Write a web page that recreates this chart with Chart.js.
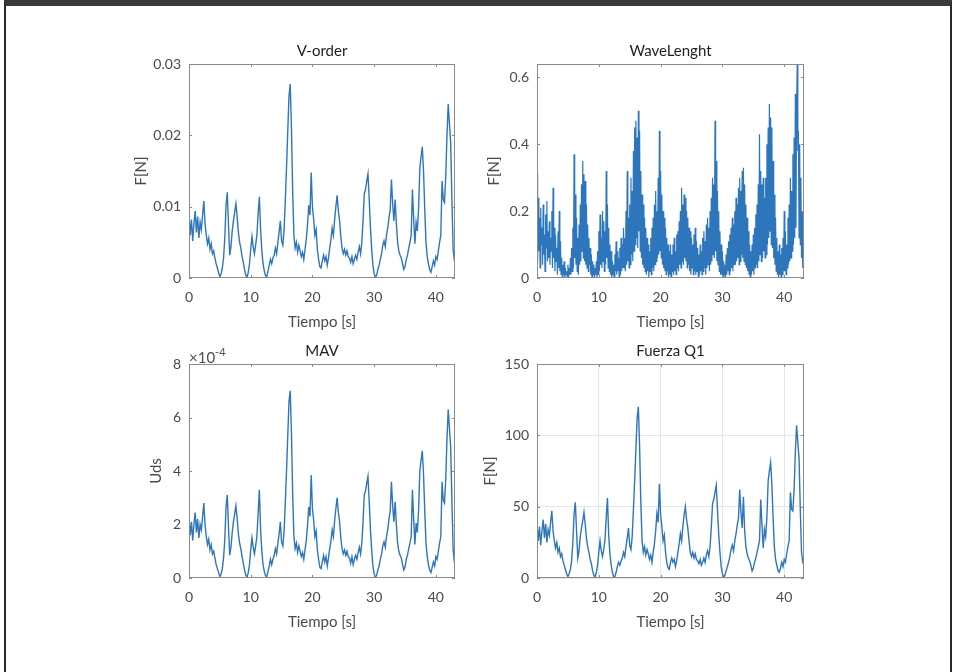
<!DOCTYPE html>
<html>
<head>
<meta charset="utf-8">
<script src="https://cdn.jsdelivr.net/npm/chart.js@4.4.0/dist/chart.umd.min.js"></script>
<style>
  html, body { margin: 0; padding: 0; background: #fff; }
  body { width: 957px; height: 672px; position: relative; overflow: hidden; }
  #frame {
    position: absolute; left: 4px; top: 0; width: 948px; height: 672px;
    box-sizing: border-box; border-top: 6px solid #3a3a3a;
    border-left: 2px solid #2a2a2a; border-right: 2px solid #2a2a2a;
  }
  .plot { position: absolute; }
  #exp { position: absolute; left: 189px; top: 346px; font: 15px Lato, sans-serif; color: #4d4d4d; }
  #exp sup { font-size: 11px; position: relative; top: -1px; }
</style>
</head>
<body>
<div id="frame"></div>
<canvas id="vorder" class="plot" width="350" height="300" style="left:110px;top:36px"></canvas>
<canvas id="wave" class="plot" width="350" height="300" style="left:458px;top:36px"></canvas>
<canvas id="mav" class="plot" width="350" height="300" style="left:110px;top:336px"></canvas>
<canvas id="fuerza" class="plot" width="350" height="300" style="left:458px;top:336px"></canvas>
<div id="exp">&times;10<sup>-4</sup></div>
<script>
// sampling steps [s]
const DT = 0.2;
const WAVE_DT = 0.1;
const X_TICKS = [0, 10, 20, 30, 40];

// V-order, in units of 1e-3 N
const vOrder = [
  9.0, 6.0, 8.2, 5.2, 7.6, 9.4, 6.4, 8.6, 5.6, 7.8,
  6.8, 8.8, 10.8, 7.6, 6.0, 4.8, 5.6, 4.0, 4.8, 3.4,
  3.8, 2.8, 2.0, 1.4, 0.7, 0.2, 0.6, 1.4, 2.8, 5.6,
  10.2, 12.0, 7.4, 3.2, 4.4, 6.6, 8.0, 9.2, 10.4, 8.6,
  6.4, 5.0, 4.2, 3.0, 2.2, 1.2, 0.4, 0.1, 0.8, 2.0,
  4.0, 5.8, 4.4, 3.4, 4.6, 6.0, 9.0, 11.4, 6.8, 3.8,
  2.0, 1.0, 0.3, 0.2, 1.0, 1.8, 2.6, 2.0, 2.8, 3.2,
  4.2, 3.4, 5.0, 6.4, 8.0, 5.2, 4.6, 6.6, 10.8, 15.5,
  20.5, 25.5, 27.2, 21.0, 12.0, 6.0, 4.2, 5.0, 3.6, 4.6,
  3.8, 3.0, 3.6, 2.6, 4.0, 5.4, 7.4, 10.2, 8.8, 14.8,
  10.0, 8.2, 6.0, 6.8, 4.0, 2.6, 1.6, 1.4, 2.4, 3.2,
  2.4, 3.0, 1.8, 2.8, 4.2, 5.4, 7.0, 6.0, 8.2, 10.0,
  11.6, 9.4, 8.0, 5.8, 4.2, 3.4, 4.0, 3.2, 3.8, 3.0,
  2.8, 2.2, 3.0, 2.0, 2.6, 3.2, 2.6, 3.6, 4.4, 3.4,
  5.0, 8.0, 11.8, 12.4, 13.6, 14.6, 11.0, 7.0, 4.0, 1.8,
  0.6, 0.1, 0.4, 1.2, 1.8, 2.6, 3.4, 4.6, 5.2, 4.4,
  6.0, 7.0, 8.4, 9.6, 13.8, 10.4, 8.0, 11.0, 7.6, 5.0,
  3.8, 3.2, 2.8, 2.0, 1.2, 1.6, 2.6, 3.2, 4.2, 5.0,
  6.0, 12.4, 8.4, 4.8, 7.8, 6.6, 9.8, 15.4, 17.0, 18.4,
  15.0, 9.6, 5.0, 3.0, 2.0, 1.2, 0.8, 1.6, 2.4, 1.8,
  3.0, 2.6, 3.8, 5.0, 6.0, 13.6, 11.0, 10.6, 14.2, 20.0,
  24.4, 21.6, 19.0, 11.0, 4.0, 2.4, 2.0
];

// WaveLenght [N], sampled every WAVE_DT
const waveLength = [
  0.31, 0.05, 0.24, 0.08, 0.18, 0.03, 0.21, 0.10, 0.15, 0.04, 0.22, 0.07, 0.13, 0.02, 0.19, 0.09, 0.23, 0.05, 0.14, 0.06,
  0.17, 0.04, 0.12, 0.08, 0.20, 0.03, 0.27, 0.06, 0.15, 0.02, 0.13, 0.05, 0.09, 0.01, 0.14, 0.03, 0.20, 0.02, 0.11, 0.01,
  0.06, 0.00, 0.04, 0.01, 0.05, 0.00, 0.03, 0.01, 0.02, 0.00, 0.04, 0.00, 0.03, 0.01, 0.06, 0.01, 0.09, 0.02, 0.15, 0.03,
  0.37, 0.06, 0.25, 0.04, 0.18, 0.02, 0.12, 0.01, 0.16, 0.04, 0.22, 0.05, 0.28, 0.08, 0.35, 0.06, 0.31, 0.05, 0.29, 0.04,
  0.22, 0.03, 0.16, 0.02, 0.12, 0.04, 0.09, 0.01, 0.07, 0.00, 0.05, 0.01, 0.04, 0.00, 0.03, 0.01, 0.05, 0.00, 0.08, 0.01,
  0.14, 0.02, 0.19, 0.04, 0.12, 0.03, 0.20, 0.05, 0.17, 0.02, 0.14, 0.04, 0.32, 0.06, 0.22, 0.03, 0.15, 0.02, 0.10, 0.01,
  0.08, 0.00, 0.05, 0.01, 0.04, 0.00, 0.07, 0.02, 0.11, 0.01, 0.08, 0.02, 0.06, 0.00, 0.09, 0.01, 0.12, 0.02, 0.10, 0.03,
  0.15, 0.03, 0.12, 0.02, 0.20, 0.04, 0.32, 0.05, 0.18, 0.03, 0.22, 0.04, 0.30, 0.07, 0.26, 0.05, 0.38, 0.08, 0.45, 0.10,
  0.47, 0.12, 0.42, 0.09, 0.50, 0.14, 0.44, 0.08, 0.32, 0.06, 0.25, 0.04, 0.22, 0.03, 0.18, 0.02, 0.15, 0.01, 0.12, 0.02,
  0.10, 0.00, 0.08, 0.02, 0.12, 0.01, 0.15, 0.03, 0.18, 0.02, 0.22, 0.04, 0.26, 0.05, 0.20, 0.06, 0.30, 0.07, 0.44, 0.08,
  0.32, 0.06, 0.25, 0.04, 0.20, 0.03, 0.18, 0.02, 0.15, 0.01, 0.12, 0.02, 0.10, 0.00, 0.08, 0.01, 0.10, 0.00, 0.07, 0.02,
  0.10, 0.01, 0.12, 0.02, 0.08, 0.01, 0.13, 0.03, 0.14, 0.02, 0.17, 0.04, 0.20, 0.03, 0.27, 0.05, 0.22, 0.04, 0.25, 0.06,
  0.24, 0.05, 0.20, 0.03, 0.18, 0.04, 0.15, 0.02, 0.14, 0.01, 0.12, 0.03, 0.10, 0.01, 0.13, 0.02, 0.15, 0.01, 0.11, 0.02,
  0.09, 0.00, 0.07, 0.01, 0.10, 0.02, 0.08, 0.01, 0.12, 0.02, 0.14, 0.03, 0.11, 0.01, 0.16, 0.03, 0.18, 0.04, 0.15, 0.02,
  0.20, 0.04, 0.24, 0.05, 0.30, 0.07, 0.28, 0.06, 0.47, 0.08, 0.35, 0.05, 0.26, 0.04, 0.20, 0.02, 0.14, 0.01, 0.10, 0.01,
  0.08, 0.00, 0.05, 0.01, 0.04, 0.00, 0.07, 0.01, 0.09, 0.02, 0.11, 0.01, 0.13, 0.02, 0.15, 0.03, 0.18, 0.02, 0.16, 0.04,
  0.20, 0.04, 0.24, 0.05, 0.22, 0.06, 0.27, 0.04, 0.30, 0.05, 0.26, 0.07, 0.32, 0.06, 0.33, 0.05, 0.28, 0.04, 0.22, 0.03,
  0.18, 0.02, 0.14, 0.01, 0.10, 0.00, 0.08, 0.01, 0.10, 0.02, 0.13, 0.01, 0.15, 0.03, 0.19, 0.04, 0.22, 0.03, 0.28, 0.05,
  0.43, 0.07, 0.32, 0.05, 0.28, 0.06, 0.30, 0.08, 0.24, 0.06, 0.30, 0.07, 0.40, 0.10, 0.45, 0.12, 0.52, 0.14, 0.48, 0.10,
  0.45, 0.09, 0.35, 0.06, 0.25, 0.04, 0.18, 0.02, 0.12, 0.01, 0.08, 0.00, 0.10, 0.01, 0.07, 0.00, 0.09, 0.01, 0.12, 0.02,
  0.20, 0.02, 0.14, 0.01, 0.10, 0.03, 0.18, 0.04, 0.22, 0.05, 0.30, 0.06, 0.26, 0.08, 0.37, 0.10, 0.42, 0.12, 0.55, 0.15,
  0.50, 0.64, 0.38, 0.44, 0.12, 0.40, 0.10, 0.30, 0.06, 0.20, 0.03, 0.08, 0.02, 0.05
];

// MAV, in units of 1e-4
const mav = [
  2.3, 1.6, 2.1, 1.4, 2.0, 2.45, 1.7, 2.2, 1.5, 2.0,
  1.8, 2.3, 2.8, 2.0, 1.55, 1.25, 1.45, 1.05, 1.25, 0.9,
  1.0, 0.75, 0.5, 0.35, 0.2, 0.05, 0.15, 0.35, 0.75, 1.45,
  2.65, 3.1, 1.9, 0.85, 1.15, 1.7, 2.1, 2.4, 2.7, 2.25,
  1.65, 1.3, 1.1, 0.8, 0.55, 0.3, 0.1, 0.03, 0.2, 0.5,
  1.05, 1.5, 1.15, 0.9, 1.2, 1.55, 2.4, 3.3, 1.8, 1.0,
  0.5, 0.25, 0.08, 0.05, 0.25, 0.45, 0.7, 0.5, 0.7, 0.85,
  1.1, 0.9, 1.3, 1.65, 2.1, 1.35, 1.2, 1.7, 2.8, 4.0,
  5.3, 6.6, 7.0, 5.4, 3.1, 1.55, 1.1, 1.3, 0.95, 1.2,
  1.0, 0.8, 0.95, 0.7, 1.05, 1.4, 1.95, 2.65, 2.3, 3.85,
  2.6, 2.15, 1.55, 1.75, 1.05, 0.7, 0.4, 0.35, 0.6, 0.85,
  0.6, 0.8, 0.45, 0.75, 1.1, 1.4, 1.8, 1.55, 2.15, 2.6,
  3.0, 2.45, 2.1, 1.5, 1.1, 0.9, 1.05, 0.85, 1.0, 0.8,
  0.75, 0.55, 0.8, 0.5, 0.7, 0.85, 0.7, 0.95, 1.15, 0.9,
  1.3, 2.1, 3.1, 3.25, 3.55, 3.8, 2.85, 1.8, 1.05, 0.45,
  0.15, 0.03, 0.1, 0.3, 0.45, 0.7, 0.9, 1.2, 1.35, 1.15,
  1.55, 1.8, 2.2, 2.5, 3.6, 2.7, 2.1, 2.85, 2.0, 1.3,
  1.0, 0.85, 0.75, 0.5, 0.3, 0.4, 0.7, 0.85, 1.1, 1.3,
  1.55, 3.3, 2.2, 1.25, 2.05, 1.7, 2.55, 4.0, 4.4, 4.75,
  3.9, 2.5, 1.3, 0.8, 0.5, 0.3, 0.2, 0.4, 0.6, 0.45,
  0.8, 0.7, 1.0, 1.3, 1.55, 3.6, 2.9, 2.8, 3.7, 5.2,
  6.3, 5.6, 4.9, 2.85, 1.05, 0.6, 0.5
];

// Fuerza Q1 [N]
const fuerza = [
  38, 26, 36, 23, 33, 41, 28, 38, 25, 34,
  30, 39, 47, 33, 26, 21, 25, 18, 21, 15,
  17, 12, 9, 6, 3, 1, 3, 6, 12, 25,
  45, 53, 33, 14, 19, 29, 35, 40, 46, 38,
  28, 22, 18, 13, 10, 5, 2, 0.5, 4, 9,
  18, 26, 19, 15, 20, 27, 42, 56, 30, 17,
  9, 4, 1, 1, 4, 8, 11, 9, 12, 14,
  18, 15, 22, 28, 35, 23, 20, 29, 48, 68,
  90, 112, 120, 92, 53, 26, 18, 22, 16, 20,
  17, 13, 16, 11, 18, 24, 33, 45, 39, 66,
  44, 36, 26, 30, 18, 11, 7, 6, 11, 14,
  11, 13, 8, 12, 18, 24, 31, 26, 36, 44,
  50, 41, 35, 26, 18, 15, 18, 14, 17, 13,
  12, 10, 13, 9, 11, 14, 11, 16, 19, 15,
  22, 35, 52, 55, 60, 65, 48, 31, 18, 8,
  3, 0.5, 2, 5, 8, 11, 15, 20, 23, 19,
  26, 31, 37, 42, 62, 46, 35, 57, 33, 22,
  17, 14, 12, 9, 5, 7, 11, 14, 18, 22,
  26, 55, 37, 21, 34, 29, 43, 68, 75, 81,
  66, 42, 22, 13, 9, 5, 4, 7, 11, 8,
  13, 11, 17, 22, 26, 60, 48, 47, 62, 88,
  107, 95, 84, 48, 18, 11, 9
];

const FONT = "Lato, 'Noto Sans', sans-serif";
const LINE_COLOR = "#2e76bc";
const TEXT_COLOR = "#4a4a4a";

// MATLAB-like box with inward tick marks
const boxPlugin = {
  id: "box",
  afterDatasetsDraw(chart) {
    const { ctx, chartArea: a, scales: { x, y } } = chart;
    ctx.save();
    ctx.strokeStyle = "#8a8a8a";
    ctx.lineWidth = 1;
    ctx.strokeRect(a.left + 0.5, a.top + 0.5, a.width - 1, a.height - 1);
    ctx.beginPath();
    x.ticks.forEach(t => {
      const px = Math.round(x.getPixelForValue(t.value)) + 0.5;
      ctx.moveTo(px, a.bottom); ctx.lineTo(px, a.bottom - 3);
      ctx.moveTo(px, a.top); ctx.lineTo(px, a.top + 3);
    });
    y.ticks.forEach(t => {
      const py = Math.round(y.getPixelForValue(t.value)) + 0.5;
      ctx.moveTo(a.left, py); ctx.lineTo(a.left + 3, py);
      ctx.moveTo(a.right, py); ctx.lineTo(a.right - 3, py);
    });
    ctx.stroke();
    ctx.restore();
  }
};

function makePlot(id, values, unit, step, cfg) {
  const points = values.map((v, i) => ({ x: i * step, y: v * unit }));
  new Chart(document.getElementById(id), {
    type: "line",
    data: { datasets: [{ data: points, borderColor: LINE_COLOR, borderWidth: cfg.lineWidth }] },
    options: {
      responsive: false,
      animation: false,
      layout: { padding: { right: cfg.padRight } },
      elements: { point: { radius: 0 }, line: { tension: 0 } },
      plugins: {
        legend: { display: false },
        tooltip: { enabled: false },
        title: {
          display: true, text: cfg.title, color: "#1e1e1e", fullSize: false,
          font: { family: FONT, size: 15, weight: "normal" },
          padding: { top: 6, bottom: 4 }
        }
      },
      scales: {
        x: {
          type: "linear", min: 0, max: cfg.xMax,
          afterBuildTicks: s => { s.ticks = X_TICKS.map(v => ({ value: v })); },
          afterFit: s => { s.height = 58; },
          grid: { display: cfg.grid, drawTicks: false, color: "#e6e6e6" },
          border: { display: false },
          ticks: { padding: 11, color: TEXT_COLOR, font: { family: FONT, size: 14 } },
          title: {
            display: true, text: "Tiempo [s]", color: TEXT_COLOR,
            font: { family: FONT, size: 15 }, padding: { top: 0, bottom: 5 }
          }
        },
        y: {
          min: 0, max: cfg.yMax,
          afterBuildTicks: s => { s.ticks = cfg.yTicks.map(v => ({ value: v })); },
          afterFit: s => { s.width = 79; },
          grid: { display: cfg.grid, drawTicks: false, color: "#e6e6e6" },
          border: { display: false },
          ticks: { padding: 8, color: TEXT_COLOR, font: { family: FONT, size: 14 } },
          title: {
            display: true, text: cfg.yTitle, color: TEXT_COLOR,
            font: { family: FONT, size: 15 }, padding: { top: cfg.yTitlePad, bottom: 0 }
          }
        }
      }
    },
    plugins: [boxPlugin]
  });
}

makePlot("vorder", vOrder, 1e-3, DT, {
  title: "V-order", yTitle: "F[N]", yMax: 0.03, yTicks: [0, 0.01, 0.02, 0.03],
  xMax: 43.1, grid: false, padRight: 5, yTitlePad: 22, lineWidth: 1.4
});
makePlot("wave", waveLength, 1, WAVE_DT, {
  title: "WaveLenght", yTitle: "F[N]", yMax: 0.64, yTicks: [0, 0.2, 0.4, 0.6],
  xMax: 43.2, grid: false, padRight: 4, yTitlePad: 27, lineWidth: 1.2
});
makePlot("mav", mav, 1, DT, {
  title: "MAV", yTitle: "Uds", yMax: 8, yTicks: [0, 2, 4, 6, 8],
  xMax: 43.1, grid: false, padRight: 5, yTitlePad: 37, lineWidth: 1.4
});
makePlot("fuerza", fuerza, 1, DT, {
  title: "Fuerza Q1", yTitle: "F[N]", yMax: 150, yTicks: [0, 50, 100, 150],
  xMax: 43.2, grid: true, padRight: 4, yTitlePad: 23, lineWidth: 1.4
});
</script>
</body>
</html>
